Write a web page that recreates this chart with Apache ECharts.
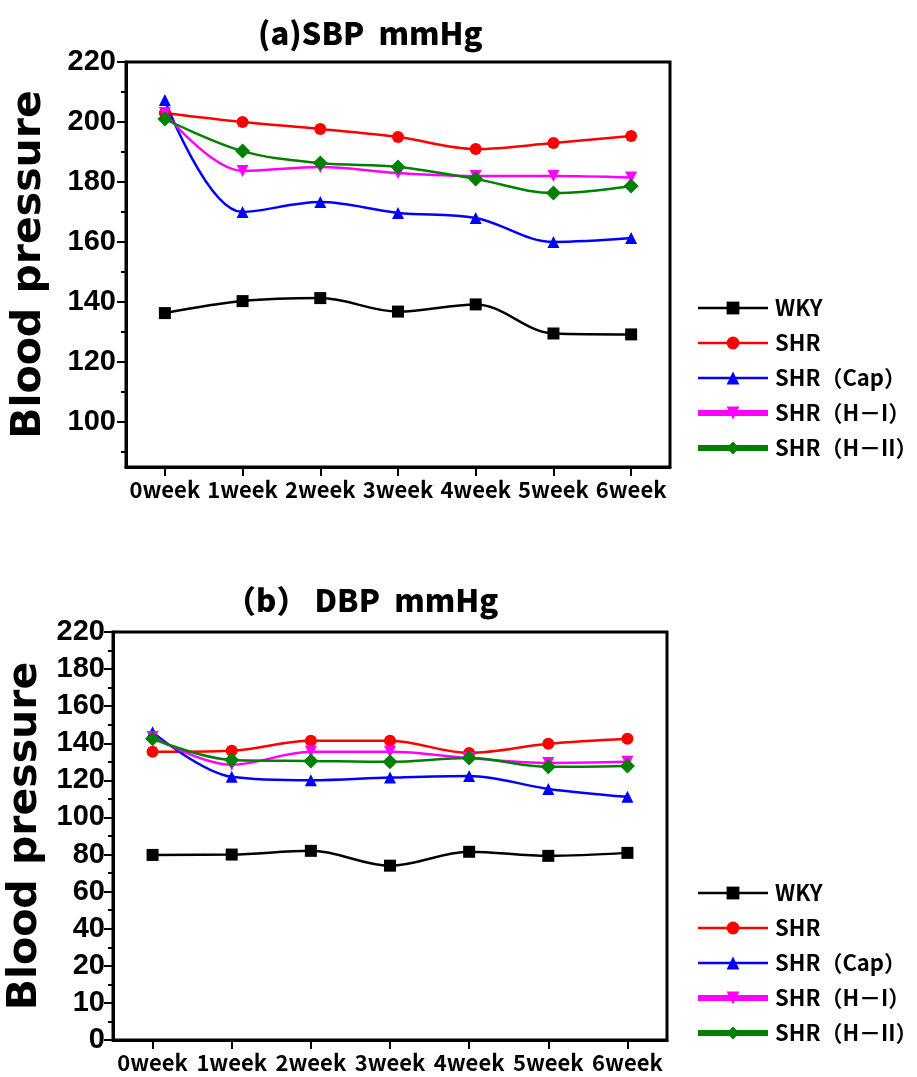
<!DOCTYPE html>
<html>
<head>
<meta charset="utf-8">
<script src="https://cdn.jsdelivr.net/npm/echarts@6/dist/echarts.min.js"></script>
<style>
html,body{margin:0;padding:0;background:#fff}
#main{width:917px;height:1077px}
</style>
</head>
<body>
<div id="main"></div>
<script>
var weeks = ['0week', '1week', '2week', '3week', '4week', '5week', '6week'];
var names = ['WKY', 'SHR', 'SHR（Cap）', 'SHR（H－I）', 'SHR（H－II）'];
var colors = ['#000000', '#ff0000', '#0000ff', '#ff00ff', '#008000'];
var symbols = ['rect', 'circle', 'triangle', 'path://M0,0L10,0L5,10Z', 'diamond'];

// (a) SBP
var sbpWKY = [136.3, 140.3, 141.3, 136.8, 139.2, 129.5, 129.2];
var sbpSHR = [203, 200, 197.7, 195, 191, 193, 195.3];
var sbpCap = [207.3, 170, 173.3, 169.7, 168, 160, 161.3];
var sbpH1 = [203, 183.7, 185, 183, 182, 182, 181.5];
var sbpH2 = [201, 190.3, 186.3, 185, 181, 176.3, 178.7];
var sbpTicks = [100, 120, 140, 160, 180, 200, 220];
var sbpMinorTicks = [90, 110, 130, 150, 170, 190, 210];

// (b) DBP
var dbpWKY = [79.8, 80, 82, 74, 81.5, 79.3, 80.9];
var dbpSHR = [135.4, 136, 141.3, 141.3, 134.8, 139.7, 142.4];
var dbpCap = [146, 121.9, 120, 121.5, 122.4, 115.4, 111.1];
var dbpH1 = [143.4, 128.4, 135.4, 135.4, 132, 129.4, 130];
var dbpH2 = [142.4, 131, 130.5, 130, 132, 127.3, 127.8];
// 纵轴刻度不均匀：每格一个标签
var dbpTickLabels = ['0', '10', '20', '40', '60', '80', '100', '120', '140', '160', '180', '220'];

var sbpData = [sbpWKY, sbpSHR, sbpCap, sbpH1, sbpH2];
var dbpData = [dbpWKY, dbpSHR, dbpCap, dbpH1, dbpH2];

var numFont = 'Liberation Sans';
var cjkFont = 'Noto Sans CJK SC';

function xAxisOf(grid) {
	return {
		type: 'category', gridIndex: grid, data: weeks, boundaryGap: true,
		axisLine: {onZero: false, lineStyle: {color: '#000', width: 3}},
		axisTick: {show: true, interval: 0, alignWithLabel: true, length: 9, lineStyle: {width: 2, color: '#000'}},
		axisLabel: {interval: 0, hideOverlap: false, color: '#000', fontFamily: cjkFont, fontWeight: 'bold', fontSize: 22, margin: 12},
		splitLine: {show: false}
	};
}

var yName = {
	color: '#000', fontFamily: 'DejaVu Sans', fontWeight: 'bold', fontSize: 41
};

function seriesOf(grid, list) {
	var out = [];
	for (var i = 0; i < list.length; i++) {
		out.push({
			name: names[i], type: 'line', xAxisIndex: grid, yAxisIndex: grid == 0 ? 0 : 2,
			data: list[i], smooth: 0.35,
			symbol: symbols[i], symbolSize: i == 4 ? 15 : 12,
			lineStyle: {color: colors[i], width: 2.5},
			itemStyle: {color: colors[i]}
		});
	}
	return out;
}

function legendOf(top) {
	var data = [];
	for (var i = 0; i < names.length; i++) {
		data.push({name: names[i], lineStyle: {width: i >= 3 ? 6 : 2.5}});
	}
	return {
		orient: 'vertical', left: 690, top: top, itemWidth: 70, itemHeight: 16, itemGap: 13,
		data: data, selectedMode: false,
		textStyle: {color: '#000', fontFamily: cjkFont, fontWeight: 'bold', fontSize: 22, padding: [0, 0, 0, 2]}
	};
}

var myChart = echarts.init(document.getElementById('main'));
var option = {
	backgroundColor: '#fff',
	animation: false,
	title: [
		{text: '(a)SBP  mmHg', left: 253, top: 13,
			textStyle: {color: '#000', fontFamily: cjkFont, fontWeight: 900, fontSize: 31}},
		{text: '（b） DBP  mmHg', left: 220, top: 580,
			textStyle: {color: '#000', fontFamily: cjkFont, fontWeight: 900, fontSize: 31}}
	],
	legend: [legendOf(292), legendOf(877)],
	grid: [
		{left: 126, right: 247, top: 62, bottom: 610, outerBoundsMode: 'none', show: true, borderColor: '#000', borderWidth: 3},
		{left: 113, right: 250, top: 632, bottom: 37, outerBoundsMode: 'none', show: true, borderColor: '#000', borderWidth: 3}
	],
	xAxis: [xAxisOf(0), xAxisOf(1)],
	yAxis: [
		{
			type: 'value', gridIndex: 0, min: 85, max: 220, position: 'left',
			name: 'Blood pressure', nameLocation: 'middle', nameGap: 76, nameTextStyle: yName,
			axisLine: {show: true, lineStyle: {color: '#000', width: 3}},
			axisTick: {show: true, length: 9, customValues: sbpTicks, lineStyle: {width: 2, color: '#000'}},
			axisLabel: {customValues: sbpTicks, color: '#000', fontFamily: numFont, fontWeight: 'bold', fontSize: 29, margin: 10},
			splitLine: {show: false}
		},
		{
			type: 'value', gridIndex: 0, min: 85, max: 220, position: 'left',
			axisLine: {show: false},
			axisTick: {show: true, length: 5, customValues: sbpMinorTicks, lineStyle: {width: 2, color: '#000'}},
			axisLabel: {show: false},
			splitLine: {show: false}
		},
		{
			type: 'value', gridIndex: 1, min: -20, max: 200, interval: 20,
			name: 'Blood pressure', nameLocation: 'middle', nameGap: 57, nameTextStyle: yName,
			axisLine: {show: true, onZero: false, lineStyle: {color: '#000', width: 3}},
			axisTick: {show: true, length: 9, lineStyle: {width: 2, color: '#000'}},
			minorTick: {show: true, splitNumber: 2, length: 5, lineStyle: {width: 2, color: '#000'}},
			axisLabel: {
				color: '#000', fontFamily: numFont, fontWeight: 'bold', fontSize: 29, margin: 8,
				formatter: function (v) { return dbpTickLabels[Math.round((v + 20) / 20)]; }
			},
			splitLine: {show: false}
		}
	],
	series: seriesOf(0, sbpData).concat(seriesOf(1, dbpData))
};
myChart.setOption(option);
</script>
</body>
</html>
